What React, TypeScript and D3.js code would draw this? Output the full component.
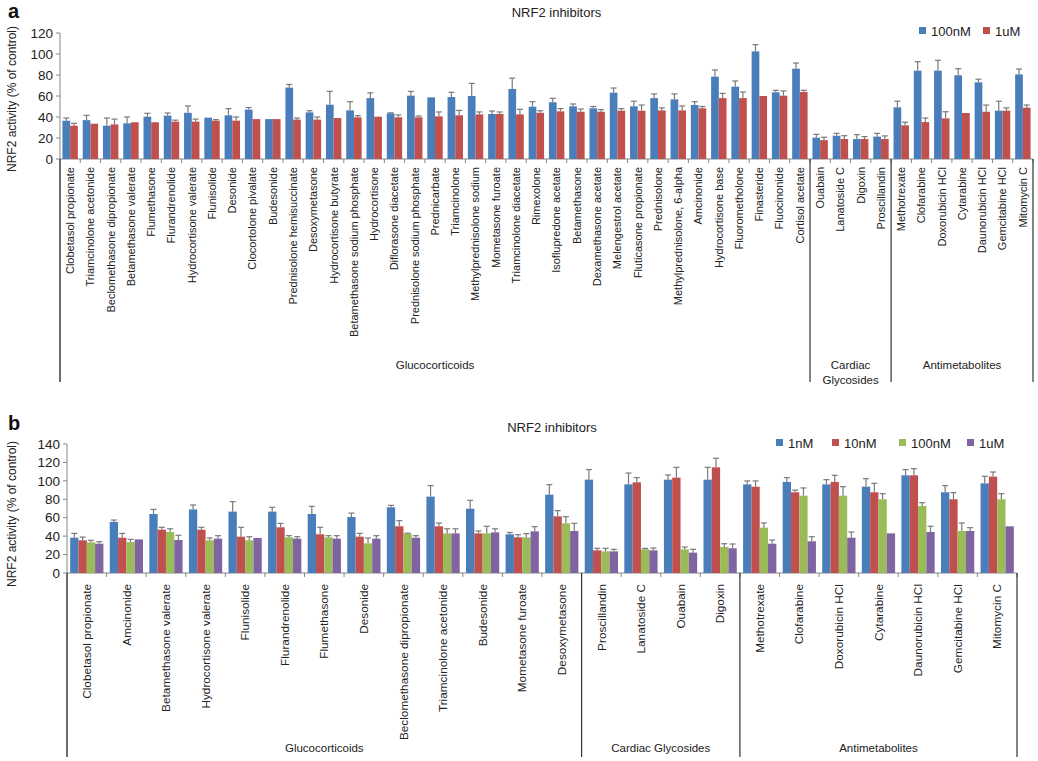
import React from "react";
import * as d3 from "d3";

// ---------- Panel a data ----------
const catsA = [
  "Clobetasol propionate", "Triamcinolone acetonide", "Beclomethasone dipropionate", "Betamethasone valerate",
  "Flumethasone", "Flurandrenolide", "Hydrocortisone valerate", "Flunisolide", "Desonide", "Clocortolone pivalate",
  "Budesonide", "Prednisolone hemisuccinate", "Desoxymetasone", "Hydrocortisone butyrate",
  "Betamethasone sodium phosphate", "Hydrocortisone", "Diflorasone diacetate", "Prednisolone sodium phosphate",
  "Prednicarbate", "Triamcinolone", "Methylprednisolone sodium", "Mometasone furoate", "Triamcinolone diacetate",
  "Rimexolone", "Isoflupredone acetate", "Betamethasone", "Dexamethasone acetate", "Melengestrol acetate",
  "Fluticasone propionate", "Prednisolone", "Methylprednisolone, 6-alpha", "Amcinonide", "Hydrocortisone base",
  "Fluorometholone", "Finasteride", "Fluocinonide", "Cortisol acetate",
  "Ouabain", "Lanatoside C", "Digoxin", "Proscillandin",
  "Methotrexate", "Clofarabine", "Doxorubicin HCl", "Cytarabine", "Daunorubicin HCl", "Gemcitabine HCl", "Mitomycin C",
];
const groupsA = [
  { label: ["Glucocorticoids"], n: 37 },
  { label: ["Cardiac", "Glycosides"], n: 4 },
  { label: ["Antimetabolites"], n: 7 },
];
const seriesA = ["100nM", "1uM"];
const a100nM = [36.5, 37, 31.7, 34, 40.3, 41.3, 44, 39.4, 41.6, 47, 38, 68, 44.4, 51.7, 46.3, 58, 43.5, 60.3, 58.7, 59, 60, 42.9, 66.7, 49.8, 54, 50.2, 48.3, 63.2, 50.2, 58, 56.8, 51.4, 78.4, 68.9, 102.5, 63.5, 86, 20.3, 22.2, 19, 21.3, 49.2, 84.1, 84.1, 79.7, 73, 46, 80.6];
const a100nMErr = [2.5, 4.6, 7.3, 6, 3.2, 2.5, 6.5, 0, 6.4, 2, 0, 3, 1.6, 12.7, 8.3, 5, 0.5, 4.1, 0, 4.5, 12, 2.8, 10.3, 4.8, 3.8, 2.2, 1.7, 4.4, 4.8, 4, 5.2, 3.2, 6.4, 5.4, 6.4, 1.9, 5.4, 3.2, 2.2, 4.2, 3.1, 5.8, 8.6, 9.9, 6.3, 3, 9, 5.1];
const a1uM = [31.7, 33.6, 33, 35, 35, 35.6, 35.6, 36.5, 36.5, 38, 38, 37.5, 37.5, 39, 39.7, 40.3, 39.7, 39.7, 40.6, 41.6, 42.5, 42.9, 42.5, 44, 45.4, 45, 45, 46, 46, 46.3, 46.3, 48.3, 58, 58, 60, 60.3, 63.8, 18, 19, 19, 19, 32, 35.2, 38.7, 43.8, 45, 46, 48.9];
const a1uMErr = [2.3, 0, 5, 0, 0, 1.4, 2.4, 1, 3.5, 0, 0, 1.5, 2.5, 0, 1.6, 0, 2.3, 1.3, 4.2, 4.7, 2.3, 1.9, 4.8, 2, 2.6, 2.6, 2, 2, 5.4, 2.4, 4.2, 1.7, 4.5, 5.8, 0, 4.5, 1.6, 2.7, 3.2, 2.3, 3, 3, 3.8, 6.3, 0, 6.4, 2.7, 2.5];
const ticksA = [0, 20, 40, 60, 80, 100, 120];

// ---------- Panel b data ----------
const catsB = [
  "Clobetasol propionate", "Amcinonide", "Betamethasone valerate", "Hydrocortisone valerate", "Flunisolide",
  "Flurandrenolide", "Flumethasone", "Desonide", "Beclomethasone dipropionate", "Triamcinolone acetonide",
  "Budesonide", "Mometasone furoate", "Desoxymetasone",
  "Proscillandin", "Lanatoside C", "Ouabain", "Digoxin",
  "Methotrexate", "Clofarabine", "Doxorubicin HCl", "Cytarabine", "Daunorubicin HCl", "Gemcitabine HCl", "Mitomycin C",
];
const groupsB = [
  { label: ["Glucocorticoids"], n: 13 },
  { label: ["Cardiac Glycosides"], n: 4 },
  { label: ["Antimetabolites"], n: 7 },
];
const seriesB = ["1nM", "10nM", "100nM", "1uM"];
const b1nM = [38.3, 55.4, 64, 69, 66.6, 66.6, 64, 60.8, 71.3, 82.9, 69.8, 42, 85, 101.3, 96.2, 101.3, 101.3, 96.2, 98.8, 96.2, 93.7, 106, 87.6, 97.3];
const b1nMErr = [4.7, 2.1, 5, 4.8, 10.8, 4.7, 8.4, 4.2, 2.1, 11.9, 9.1, 2, 10.9, 10.9, 12.3, 5.1, 13.4, 3.7, 4.7, 5.1, 8.7, 6.2, 7.2, 7.6];
const b10nM = [35.5, 38.3, 47, 47, 39.4, 49.6, 42, 39.4, 50.7, 50.7, 43, 38.7, 61.5, 24.6, 98.4, 103.5, 114.7, 93.7, 87.6, 98.8, 87.6, 106, 80, 104.6];
const b10nMErr = [3.5, 4.7, 2.6, 2.6, 10.2, 4.3, 7.6, 3.6, 6.1, 3.6, 2.6, 2.9, 6.2, 2.2, 5.1, 11.2, 9.8, 6.2, 2.4, 7.2, 9.7, 7.2, 7.2, 5];
const b100nM = [33.3, 33.6, 44.5, 35.5, 35.5, 38.7, 38.7, 32.2, 42.7, 43, 43, 38.7, 53.9, 23.5, 25.7, 25.7, 28.2, 49.2, 83.9, 83.9, 80, 72.7, 45.6, 80];
const b100nMErr = [2.2, 2.9, 3.5, 2.5, 3.9, 1.8, 1.8, 5.8, 0.5, 5, 7.7, 4, 7.2, 3.3, 1, 2.5, 3.6, 5.1, 8.4, 9.8, 6.1, 3.6, 8.7, 6.1];
const b1uM = [31.8, 36.5, 35.8, 37.3, 38, 37.3, 37.3, 37.3, 38.3, 43, 44.1, 45.2, 45.6, 23.5, 24.6, 22.1, 26.8, 31.8, 34.4, 38.3, 43, 44.5, 45.6, 50.7];
const b1uMErr = [2.2, 0, 5.1, 3.2, 0, 2.1, 3.2, 3.2, 2.2, 5, 3.9, 5.1, 8.3, 2.2, 2.5, 3.6, 4.7, 4, 5, 6.2, 0, 6.2, 3.6, 0];
const ticksB = [0, 20, 40, 60, 80, 100, 120, 140];

const COLORS = ["#4a7ebb", "#c0504d", "#9bbb59", "#8064a2"];
const FONT = "'Liberation Sans', Arial, sans-serif";
const AXIS = "#868686";
const ERR = "#7a7a7a";

type PanelProps = {
  letter: string;
  letterY: number;
  cats: string[];
  groups: { label: string[]; n: number }[];
  series: string[];
  values: number[][];
  errs: number[][];
  ticks: number[];
  x0: number;
  x1: number;
  yTop: number;
  yBot: number;
  yMax: number;
  barFrac: number;
  titleY: number;
  legendX: number[];
  legendY: number;
  ylabelY: number;
  catLabelY: number;
  catFont: number;
  groupLineBottom: number;
  groupLabelY: number;
};

function Panel(p: PanelProps) {
  const x = d3.scaleBand<string>().domain(p.cats.map((c, i) => String(i))).range([p.x0, p.x1]).padding(0);
  const y = d3.scaleLinear().domain([0, p.yMax]).range([p.yBot, p.yTop]);
  const bw = x.bandwidth();
  const barW = bw * p.barFrac;
  const inner = d3.scaleBand<number>().domain(p.series.map((_, i) => i)).range([0, barW * p.series.length]);
  const off = (bw - barW * p.series.length) / 2;

  const bounds: number[] = [0];
  p.groups.forEach((g) => bounds.push(bounds[bounds.length - 1] + g.n));
  const bx = (i: number) => p.x0 + i * bw;

  return (
    <g fontFamily={FONT}>
      <text x={8} y={p.letterY} fontSize={20} fontWeight="bold" fill="#111">{p.letter}</text>
      <text x={(p.x0 + p.x1) / 2 + 10} y={p.titleY} fontSize={13} textAnchor="middle" fill="#222">NRF2 inhibitors</text>
      {/* legend */}
      {p.series.map((s, i) => (
        <g key={s}>
          <rect x={p.legendX[i]} y={p.legendY - 4} width={7} height={7} fill={COLORS[i]} />
          <text x={p.legendX[i] + 12} y={p.legendY + 4.5} fontSize={13} fill="#222">{s}</text>
        </g>
      ))}
      {/* y label */}
      <text transform={`translate(16,${p.ylabelY}) rotate(-90)`} fontSize={12} textAnchor="middle" fill="#222">
        NRF2 activity (% of control)
      </text>
      {/* y axis */}
      <line x1={p.x0} x2={p.x0} y1={y(p.yMax)} y2={p.groupLineBottom} stroke={AXIS} strokeWidth={1} />
      {p.ticks.map((t) => (
        <g key={t}>
          <line x1={p.x0 - 4} x2={p.x0} y1={y(t)} y2={y(t)} stroke={AXIS} />
          <text x={p.x0 - 7} y={y(t)} dy="0.35em" fontSize={13.5} textAnchor="end" fill="#222">{t}</text>
        </g>
      ))}
      {/* x axis */}
      <line x1={p.x0} x2={p.x1} y1={p.yBot} y2={p.yBot} stroke={AXIS} />
      {p.cats.map((_, i) => (
        <line key={"t" + i} x1={bx(i + 1)} x2={bx(i + 1)} y1={p.yBot} y2={p.yBot + 4} stroke={AXIS} />
      ))}
      {/* bars */}
      {p.series.map((s, si) => (
        <g key={s}>
          {p.values[si].map((v, ci) => {
            const bxx = (x(String(ci)) as number) + off + (inner(si) as number);
            const e = p.errs[si][ci];
            const cx = bxx + barW / 2;
            return (
              <g key={ci}>
                <rect x={bxx} y={y(v)} width={barW} height={y(0) - y(v)} fill={COLORS[si]} />
                {e > 0.3 && (
                  <g stroke={ERR} strokeWidth={1.2}>
                    <line x1={cx} x2={cx} y1={y(v)} y2={y(v + e)} />
                    <line x1={cx - 3} x2={cx + 3} y1={y(v + e)} y2={y(v + e)} />
                  </g>
                )}
              </g>
            );
          })}
        </g>
      ))}
      {/* category labels */}
      {p.cats.map((c, i) => {
        const cx = (x(String(i)) as number) + bw / 2;
        return (
          <text key={"c" + i} transform={`translate(${cx},${p.catLabelY}) rotate(-90)`} dy="0.35em"
            fontSize={p.catFont} textAnchor="end" fill="#222">{c}</text>
        );
      })}
      {/* group separators */}
      {bounds.map((b, i) => (
        <line key={"g" + i} x1={bx(b)} x2={bx(b)} y1={p.yBot} y2={p.groupLineBottom} stroke="#333" strokeWidth={1.2} />
      ))}
      {p.groups.map((g, i) => {
        const cx = (bx(bounds[i]) + bx(bounds[i + 1])) / 2;
        return (
          <text key={"gl" + i} x={cx} y={p.groupLabelY} fontSize={11.5} textAnchor="middle" fill="#222">
            {g.label.map((l, j) => (
              <tspan key={j} x={cx} dy={j === 0 ? 0 : 15}>{l}</tspan>
            ))}
          </text>
        );
      })}
    </g>
  );
}

export default function App() {
  return (
    <svg width={1038} height={761} style={{ position: "absolute", left: 0, top: 0, background: "#fff" }}>
      <rect width={1038} height={761} fill="#fff" />
      <Panel
        letter="a" letterY={18}
        cats={catsA} groups={groupsA} series={seriesA}
        values={[a100nM, a1uM]} errs={[a100nMErr, a1uMErr]}
        ticks={ticksA} x0={60} x1={1033} yTop={33} yBot={159} yMax={120}
        barFrac={0.38} titleY={17} legendX={[919, 983]} legendY={31}
        ylabelY={99} catLabelY={167} catFont={11} groupLineBottom={382} groupLabelY={369}
      />
      <Panel
        letter="b" letterY={430}
        cats={catsB} groups={groupsB} series={seriesB}
        values={[b1nM, b10nM, b100nM, b1uM]} errs={[b1nMErr, b10nMErr, b100nMErr, b1uMErr]}
        ticks={ticksB} x0={67} x1={1017} yTop={444} yBot={573} yMax={140}
        barFrac={0.21} titleY={432} legendX={[776, 832, 899, 967]} legendY={443}
        ylabelY={514} catLabelY={584} catFont={11.8} groupLineBottom={757} groupLabelY={752}
      />
    </svg>
  );
}
